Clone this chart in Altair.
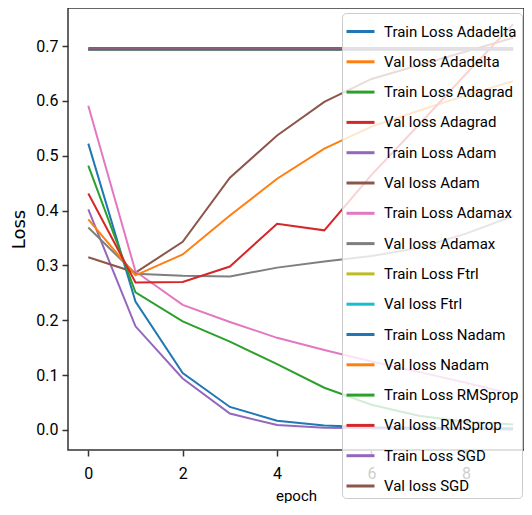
import altair as alt
import pandas as pd

epochs = [0, 1, 2, 3, 4, 5, 6, 7, 8, 9]

series_names = [
    "Train Loss Adadelta", "Val loss Adadelta",
    "Train Loss Adagrad", "Val loss Adagrad",
    "Train Loss Adam", "Val loss Adam",
    "Train Loss Adamax", "Val loss Adamax",
    "Train Loss Ftrl", "Val loss Ftrl",
    "Train Loss Nadam", "Val loss Nadam",
    "Train Loss RMSprop", "Val loss RMSprop",
    "Train Loss SGD", "Val loss SGD",
]
series_colors = [
    "#1f77b4", "#ff7f0e", "#2ca02c", "#d62728", "#9467bd", "#8c564b",
    "#e377c2", "#7f7f7f", "#bcbd22", "#17becf",
    "#1f77b4", "#ff7f0e", "#2ca02c", "#d62728", "#9467bd", "#8c564b",
]

train_adadelta = [0.6938, 0.6938, 0.6938, 0.6938, 0.6938, 0.6938, 0.6938, 0.6938, 0.6938, 0.6938]
val_adadelta = [0.6935, 0.6935, 0.6935, 0.6935, 0.6935, 0.6935, 0.6935, 0.6935, 0.6935, 0.6935]
train_adagrad = [0.6962, 0.6962, 0.6962, 0.6962, 0.6962, 0.6962, 0.6962, 0.6962, 0.6962, 0.6962]
val_adagrad = [0.6950, 0.6950, 0.6950, 0.6950, 0.6950, 0.6950, 0.6950, 0.6950, 0.6950, 0.6950]
train_adam = [0.402, 0.189, 0.094, 0.030, 0.009, 0.004, 0.003, 0.002, 0.002, 0.001]
val_adam = [0.315, 0.287, 0.343, 0.460, 0.537, 0.598, 0.640, 0.665, 0.690, 0.715]
train_adamax = [0.591, 0.289, 0.228, 0.197, 0.168, 0.146, 0.125, 0.106, 0.086, 0.065]
val_adamax = [0.369, 0.285, 0.281, 0.280, 0.296, 0.307, 0.317, 0.332, 0.358, 0.390]
train_ftrl = [0.6932, 0.6932, 0.6932, 0.6932, 0.6932, 0.6932, 0.6932, 0.6932, 0.6932, 0.6932]
val_ftrl = [0.6931, 0.6931, 0.6931, 0.6931, 0.6931, 0.6931, 0.6931, 0.6931, 0.6931, 0.6931]
train_nadam = [0.522, 0.234, 0.104, 0.042, 0.017, 0.008, 0.005, 0.004, 0.003, 0.003]
val_nadam = [0.384, 0.282, 0.320, 0.391, 0.458, 0.513, 0.553, 0.582, 0.610, 0.636]
train_rmsprop = [0.482, 0.251, 0.198, 0.161, 0.120, 0.077, 0.046, 0.026, 0.015, 0.010]
val_rmsprop = [0.431, 0.269, 0.270, 0.298, 0.376, 0.364, 0.465, 0.556, 0.649, 0.740]
train_sgd = [0.6945, 0.6945, 0.6945, 0.6945, 0.6945, 0.6945, 0.6945, 0.6945, 0.6945, 0.6945]
val_sgd = [0.6938, 0.6938, 0.6938, 0.6938, 0.6938, 0.6938, 0.6938, 0.6938, 0.6938, 0.6938]

series_values = [
    train_adadelta, val_adadelta, train_adagrad, val_adagrad,
    train_adam, val_adam, train_adamax, val_adamax,
    train_ftrl, val_ftrl, train_nadam, val_nadam,
    train_rmsprop, val_rmsprop, train_sgd, val_sgd,
]

rows = []
for idx, (name, vals) in enumerate(zip(series_names, series_values)):
    for e, v in zip(epochs, vals):
        rows.append({"series": name, "epoch": e, "loss": v, "k": idx})
df = pd.DataFrame(rows)

y_ticks = [0.0, 0.1, 0.2, 0.3, 0.4, 0.5, 0.6, 0.7]
x_ticks = [0, 2, 4, 6, 8]

FONT = "Roboto"

chart = alt.Chart(df).mark_line(strokeWidth=2, clip=True).encode(
    x=alt.X("epoch:Q",
            scale=alt.Scale(domain=[-0.43, 9.231], nice=False, zero=False),
            axis=alt.Axis(values=x_ticks, format="d", title="epoch", grid=False,
                          labelPadding=9, titlePadding=7, titleFontSize=15)),
    y=alt.Y("loss:Q",
            scale=alt.Scale(domain=[-0.03646, 0.7693], nice=False, zero=False),
            axis=alt.Axis(values=y_ticks, format=".1f", title="Loss", grid=False,
                          labelPadding=4, titlePadding=7, titleFont="DejaVu Sans",
                          titleFontSize=18)),
    color=alt.Color("series:N",
                    scale=alt.Scale(domain=series_names, range=series_colors),
                    sort=series_names,
                    legend=alt.Legend(orient="none", legendX=274, legendY=5, title=None,
                                      symbolType="stroke", symbolStrokeWidth=3,
                                      symbolSize=784, labelFont=FONT, labelFontSize=15,
                                      labelColor="#000000", labelOffset=8, rowPadding=6.3,
                                      padding=3, fillColor="rgba(255,255,255,0.8)",
                                      strokeColor="#cccccc", cornerRadius=4,
                                      labelLimit=300, symbolOpacity=1)),
    order=alt.Order("k:Q"),
).properties(
    width=456, height=442,
    padding={"left": 60, "top": 0, "right": 0, "bottom": 53},
    autosize=alt.AutoSizeParams(type="none"),
).configure_view(
    stroke="#333333", strokeWidth=1.5
).configure_axis(
    domain=False, tickColor="#333333", tickWidth=1.5, tickSize=6,
    labelFont=FONT, labelFontSize=16, labelColor="#000000",
    titleFont=FONT, titleFontSize=16, titleFontWeight="normal", titleColor="#000000",
)

chart.save("out.html", embed_options={"renderer": "svg", "actions": False})
